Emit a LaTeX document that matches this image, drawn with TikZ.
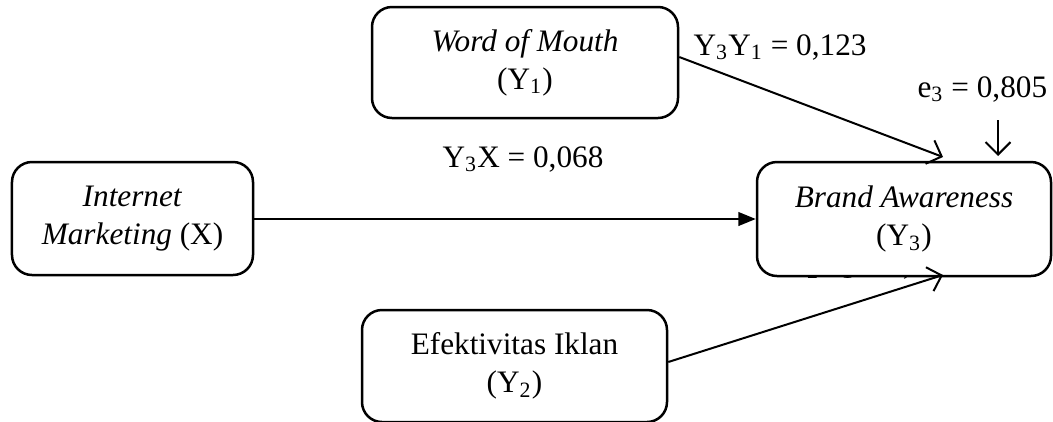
\documentclass[tikz,border=0pt]{standalone}
\usepackage{fontspec}
\setmainfont{Liberation Serif}
\usetikzlibrary{arrows.meta}
\newcommand{\lsub}[1]{\textsubscript{#1}}
\begin{document}
\begin{tikzpicture}[x=0.4pt,y=-0.4pt,
  every node/.style={font=\fontsize{12.5}{15.2}\selectfont},
  varbox/.style={draw, line width=1pt, rounded corners=8pt, fill=white,
    align=center, inner sep=0pt},
  conn/.style={line width=0.8pt},
  barb/.style={-{Straight Barb[length=5pt,width=10pt,line width=0.8pt]}},
  solidhead/.style={-{Triangle[length=7pt,width=5.5pt]}},
  lbl/.style={inner sep=0pt, anchor=base west}]
\useasboundingbox (0,0) rectangle (1053,421);
\clip (0,0) rectangle (1053,421);
% label hidden behind the Brand Awareness box
\node[lbl] (hid) at (784,274) {Y\lsub{2}Y\lsub{1} = 0,285};
\node[varbox, minimum width=122.4pt, minimum height=44.4pt] (wom) at (525,62.5)
  {\textit{Word of Mouth}\\(Y\lsub{1})};
\node[varbox, minimum width=96.4pt, minimum height=45.2pt] (im) at (132.5,218.5)
  {\textit{Internet}\\\textit{Marketing} (X)};
\node[varbox, minimum width=117.6pt, minimum height=45.6pt] (ba) at (904,219)
  {\textit{Brand Awareness}\\(Y\lsub{3})};
\node[varbox, minimum width=122pt, minimum height=44.8pt] (ei) at (514.5,366)
  {Efektivitas Iklan\\(Y\lsub{2})};
% labels
\node[lbl] (l1) at (693,55) {Y\lsub{3}Y\lsub{1} = 0,123};
\node[lbl] (l3) at (917,97) {e\lsub{3} = 0,805};
\node[lbl] (l2) at (442,167) {Y\lsub{3}X = 0,068};
% connectors
\coordinate (t1) at (943,157);
\coordinate (t2) at (943,275);
\coordinate (es) at (998,120);
\coordinate (et) at (998,156);
\draw[conn, solidhead] (im.east |- ba.west) -- (ba.west);
\draw[conn, barb] (wom.east |- 0,57) -- (t1);
\draw[conn, barb] (ei.east |- 0,362) -- (t2);
\draw[conn, barb] (es) -- (et);
\end{tikzpicture}
\end{document}
